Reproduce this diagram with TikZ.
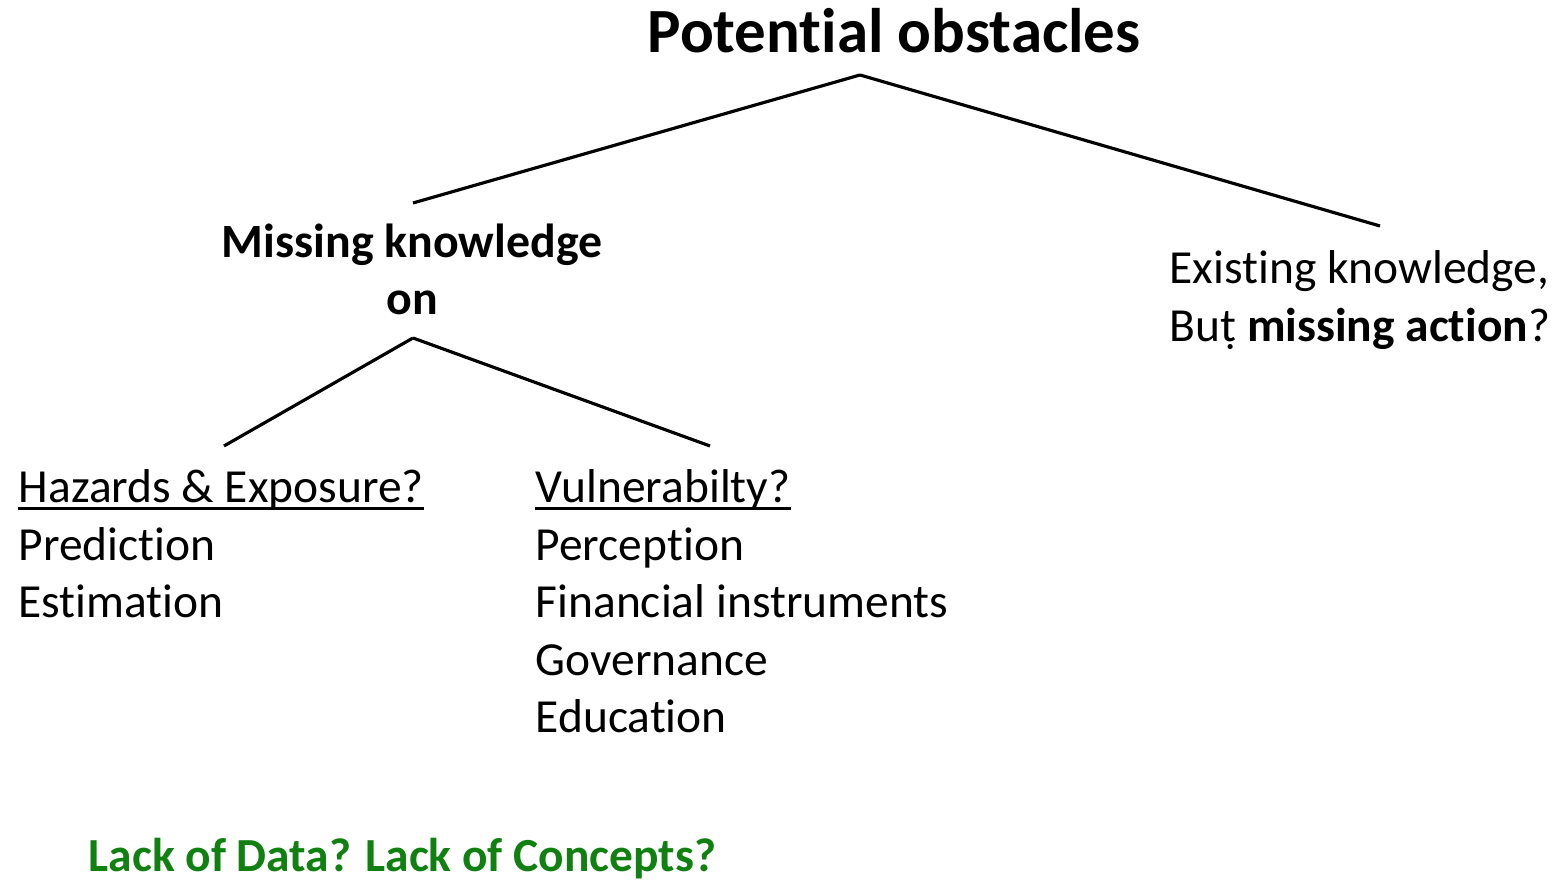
\documentclass[tikz,border=0pt]{standalone}
\usepackage{fontspec}
\setmainfont[Ligatures={NoCommon}]{Carlito}
\usetikzlibrary{positioning}
\definecolor{leafgreen}{RGB}{16,128,16}
\tikzstyle{heading}=[inner sep=0pt, anchor=base, font=\bfseries\fontsize{17.9}{21}\selectfont]
\tikzstyle{branch}=[inner sep=0pt, anchor=base, font=\bfseries\fontsize{13.6}{16.4}\selectfont]
\tikzstyle{item}=[inner sep=0pt, anchor=base west, font=\fontsize{13.5}{16.4}\selectfont]
\tikzstyle{question}=[item, font=\bfseries\fontsize{13.5}{16.4}\selectfont, text=leafgreen]
\tikzstyle{edge} = [draw, line width=0.9pt, -]
\tikzstyle{underline} = [draw, line width=0.8pt, -]

\begin{document}
\begin{tikzpicture}[x=0.01cm, y=-0.01cm]
    \useasboundingbox (0,0) rectangle (1558,880);

    \node[heading] (title) at (894,53) {Potential obstacles};
    \node[branch] (missing) at (412,258) {Missing knowledge};
    \node[branch] (on) at (412,315) {on};
    \node[item] (existing) at (1169,284) {Existing knowledge,};
    \node[item] (action) at (1169,342) {Bu\d{t} \textbf{missing action}?};

    % left leaf
    \node[item] (hazards) at (18,503) {Hazards \& Exposure?};
    \foreach \txt [count=\i] in {Prediction, Estimation}
        \node[item] (haz\i) at (18,503+57.5*\i) {\txt};

    % middle leaf
    \node[item] (vulner) at (535,503) {Vulnerabilty?};
    \foreach \txt [count=\i] in {Perception, Financial instruments, Governance, Education}
        \node[item] (vul\i) at (535,503+57.5*\i) {\txt};

    \node[question] (lack) at (88,871) {Lack of Data? Lack of Concepts?};

    \foreach \head in {hazards, vulner}
        \path[underline] ([yshift=-1.5pt]\head.base west) -- ([yshift=-1.5pt]\head.base east);

    \foreach \x/\y/\name in {860/75/top, 413/203/knowtop, 1380/226/existtop,
                             413/338/onbot, 224/446/haztop, 710/446/vultop}
        \coordinate (\name) at (\x,\y);

    \foreach \source/\dest in {top/knowtop, top/existtop, onbot/haztop, onbot/vultop}
        \path[edge] (\source) -- (\dest);
\end{tikzpicture}
\end{document}
